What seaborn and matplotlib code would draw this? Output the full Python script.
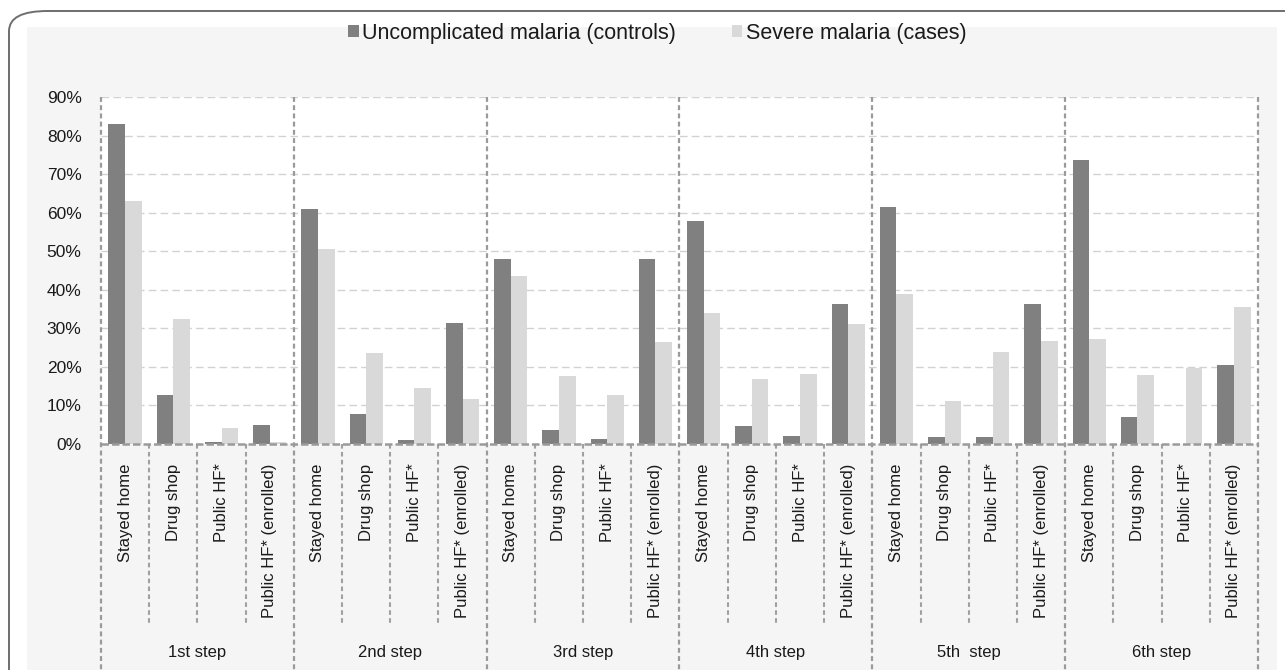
import pandas as pd
import numpy as np
import seaborn as sns
import matplotlib.pyplot as plt
from matplotlib.patches import FancyBboxPatch, Rectangle

###########################################
# Data (percent of children)
###########################################

steps = ["1st step", "2nd step", "3rd step", "4th step", "5th  step", "6th step"]
places = ["Stayed home", "Drug shop", "Public HF*", "Public HF* (enrolled)"]
series = ["Uncomplicated malaria (controls)", "Severe malaria (cases)"]

controls = [83.0, 12.6, 0.5, 4.8,
            60.9, 7.7, 1.0, 31.5,
            48.1, 3.6, 1.2, 48.1,
            57.9, 4.7, 2.1, 36.4,
            61.4, 1.7, 1.7, 36.4,
            73.6, 6.9, 0.0, 20.4]
cases = [63.0, 32.4, 4.1, 0.5,
         50.6, 23.7, 14.4, 11.7,
         43.5, 17.6, 12.7, 26.4,
         34.0, 16.8, 18.2, 31.1,
         38.9, 11.1, 23.8, 26.7,
         27.2, 17.9, 19.8, 35.6]

yticks = list(range(0, 91, 10))

slot_order = [s + "|" + p for s in steps for p in places]
df = pd.DataFrame({
    "slot": slot_order * 2,
    "pct": controls + cases,
    "series": [series[0]] * len(controls) + [series[1]] * len(cases),
})

###########################################
# Figure
###########################################

sns.set_style("white")
plt.rcParams["font.family"] = ["Liberation Sans", "DejaVu Sans"]

W, H = 1285, 670
fig = plt.figure(figsize=(W / 100, H / 100), dpi=100, facecolor="white")

# outer rounded frame + light grey panel
frame = FancyBboxPatch((9 / W, -0.2), 1.2, (1 - 11 / H) + 0.2,
                       boxstyle="round,pad=0,rounding_size=0.03",
                       transform=fig.transFigure, facecolor="white",
                       edgecolor="#6e6e6e", linewidth=1.4, zorder=0)
fig.patches.append(frame)
panel = Rectangle((27 / W, -0.1), (1277 - 27) / W, (1 - 27 / H) + 0.1,
                  transform=fig.transFigure, facecolor="#f5f5f5",
                  edgecolor="none", zorder=0.5)
fig.patches.append(panel)

ax = fig.add_axes([101 / W, (H - 444) / H, (1258 - 101) / W, (444 - 97) / H])
ax.set_zorder(2)
ax.set_facecolor("white")

sns.barplot(data=df, x="slot", y="pct", hue="series", order=slot_order,
            hue_order=series, palette=["#808080", "#d9d9d9"], width=0.69,
            saturation=1, linewidth=0, ax=ax, zorder=3)

ax.set_ylim(0, 90)
ax.set_xlim(-0.5, len(slot_order) - 0.5)
ax.set_yticks(yticks)
ax.set_yticklabels([f"{t}%" for t in yticks], fontsize=12.5, color="#1a1a1a")
ax.set_xticks(range(len(slot_order)))
ax.set_xticklabels(places * len(steps), rotation=90, va="top", ha="center",
                   fontsize=12, color="#1a1a1a")
ax.tick_params(axis="x", length=0, pad=14)
ax.tick_params(axis="y", length=4, width=1.2, color="#9a9a9a", pad=10)
ax.set_xlabel("")
ax.set_ylabel("")

for sp in ax.spines.values():
    sp.set_visible(False)

# horizontal dashed gridlines
for t in yticks[1:]:
    ax.axhline(t, color="#d2d2d2", lw=1, ls=(0, (5.5, 3)), zorder=1)

trans = ax.get_xaxis_transform()
# dashed category axis line
ax.plot([-0.5, len(slot_order) - 0.5], [0, 0], transform=trans, color="#9a9a9a",
        lw=1.8, ls=(0, (3, 1.2)), clip_on=False, zorder=5)

# group separators (full height) and dividers between categories (below axis only)
for i in range(len(slot_order) + 1):
    if i % 4 == 0:
        ax.plot([i - 0.5, i - 0.5], [1, -0.66], transform=trans, color="#9a9a9a",
                lw=1.6, ls=(0, (2.2, 1.5)), clip_on=False, zorder=4)
    else:
        ax.plot([i - 0.5, i - 0.5], [0, -0.516], transform=trans, color="#a0a0a0",
                lw=1.5, ls=(0, (2.2, 1.6)), clip_on=False, zorder=4)

# group labels
for g, s in enumerate(steps):
    ax.text(4 * g + 1.5, -0.6, s, transform=trans, ha="center", va="center",
            fontsize=12, color="#1a1a1a")

# legend on top
handles, labels = ax.get_legend_handles_labels()
if ax.get_legend() is not None:
    ax.get_legend().remove()
fig.legend(handles, labels, loc="center", bbox_to_anchor=(657 / W, 1 - 33 / H),
           ncol=2, frameon=False, fontsize=15.5, handlelength=0.5,
           handleheight=0.5, handletextpad=0.15, columnspacing=2.6,
           labelcolor="#1a1a1a")

fig.savefig("out.png", dpi=100, facecolor="white")
